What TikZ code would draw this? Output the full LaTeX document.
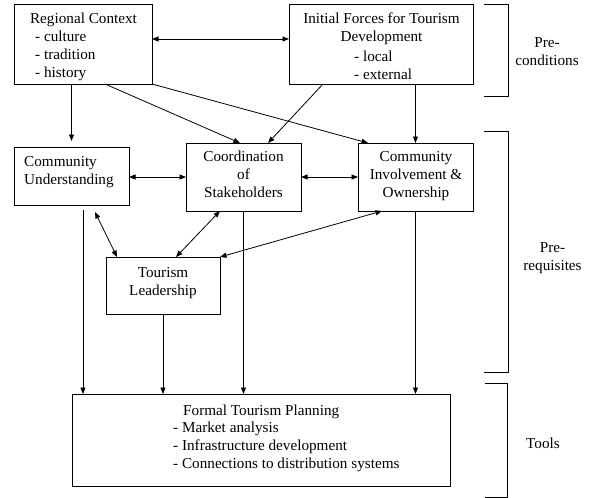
\documentclass[tikz,border=0pt]{standalone}
\usepackage{fontspec}
\setmainfont{Liberation Serif}
\usetikzlibrary{arrows.meta}
\begin{document}
\begin{tikzpicture}[x=1pt,y=-1pt,
  box/.style={draw,line width=0.9pt,inner sep=0pt,outer sep=0pt},
  txt/.style={inner sep=0pt,font=\fontsize{15.2}{18}\selectfont},
  link/.style={line width=0.8pt,-{Triangle[length=6.5pt,width=5pt]}},
  dlink/.style={line width=0.8pt,{Triangle[length=6.5pt,width=5pt]}-{Triangle[length=6.5pt,width=5pt]}},
  brk/.style={line width=0.9pt}]
\useasboundingbox (0,0) rectangle (595,498);
% boxes
\node[box,minimum width=138pt,minimum height=80pt] (rc) at (83,44) {};
\node[box,minimum width=184pt,minimum height=80pt] (inf) at (381,44) {};
\node[box,minimum width=115pt,minimum height=58pt] (cu) at (71.5,176) {};
\node[box,minimum width=115pt,minimum height=68pt] (co) at (243.5,177) {};
\node[box,minimum width=115pt,minimum height=68pt] (ci) at (415.5,177) {};
\node[box,minimum width=114pt,minimum height=57pt] (tl) at (163,285.5) {};
\node[box,minimum width=378pt,minimum height=92pt] (ftp) at (261,440) {};
% texts
\node[txt] (rct) at (83.5,19.5) {Regional Context};
\node[txt,align=left,anchor=west] (rcb) at (35,56) {- culture\\- tradition\\- history};
\node[txt,align=center] (inft) at (381.5,28.5) {Initial Forces for Tourism\\Development};
\node[txt,align=left,anchor=west] (infb) at (354,65.5) {- local\\- external};
\node[txt,align=left,anchor=west] (cut) at (24,172.5) {Community\\Understanding};
\node[txt,align=center] (cot) at (243.5,174.5) {Coordination\\of\\Stakeholders};
\node[txt,align=center] (cit) at (416,176) {Community\\Involvement \&\\Ownership};
\node[txt,align=center] (tlt) at (163,283) {Tourism\\Leadership};
\node[txt,anchor=west] (ftpt) at (183,412) {Formal Tourism Planning};
\node[txt,align=left,anchor=west] (ftpb) at (173,447) {- Market analysis\\- Infrastructure development\\- Connections to distribution systems};
% brackets
\draw[brk] (484,4) -- (508,4) -- (508,96) -- (484,96);
\draw[brk] (484,131) -- (508,131) -- (508,372) -- (484,372);
\draw[brk] (485,383) -- (507,383) -- (507,497) -- (485,497);
\node[txt,align=center] (pc) at (547,52) {Pre-\\conditions};
\node[txt,align=center] (pr) at (552.5,258) {Pre-\\requisites};
\node[txt] (tools) at (543,443.5) {Tools};
% connectors
\draw[dlink] ([yshift=5pt]rc.east) -- ([yshift=5pt]inf.west);
\draw[link,shorten >=6pt] (rc.south -| cu.north) -- (cu.north);
\draw[link] ([xshift=22pt]rc.south) -- ([xshift=-3.5pt]co.north);
\draw[link] (rc.south east) -- ([xshift=-47.5pt]ci.north);
\draw[link] ([xshift=-58pt]inf.south) -- ([xshift=24.5pt]co.north);
\draw[link] (inf.south -| ci.north) -- (ci.north);
\draw[dlink] (cu.east |- co.west) -- (co.west);
\draw[dlink] (co.east) -- (ci.west);
\draw[dlink] ([shift={(23.5pt,-7pt)}]cu.south) -- ([xshift=-46pt]tl.north);
\draw[dlink] ([xshift=-23.5pt]co.south) -- ([xshift=13pt]tl.north);
\draw[dlink] ([xshift=-33.5pt]ci.south) -- (tl.north east);
\coordinate (cuout) at ([shift={(11.5pt,-5pt)}]cu.south);
\draw[link] (cuout) -- (cuout |- ftp.north);
\draw[link] (tl.south) -- (tl.south |- ftp.north);
\draw[link] (co.south) -- (co.south |- ftp.north);
\draw[link] (ci.south) -- (ci.south |- ftp.north);
\end{tikzpicture}
\end{document}
